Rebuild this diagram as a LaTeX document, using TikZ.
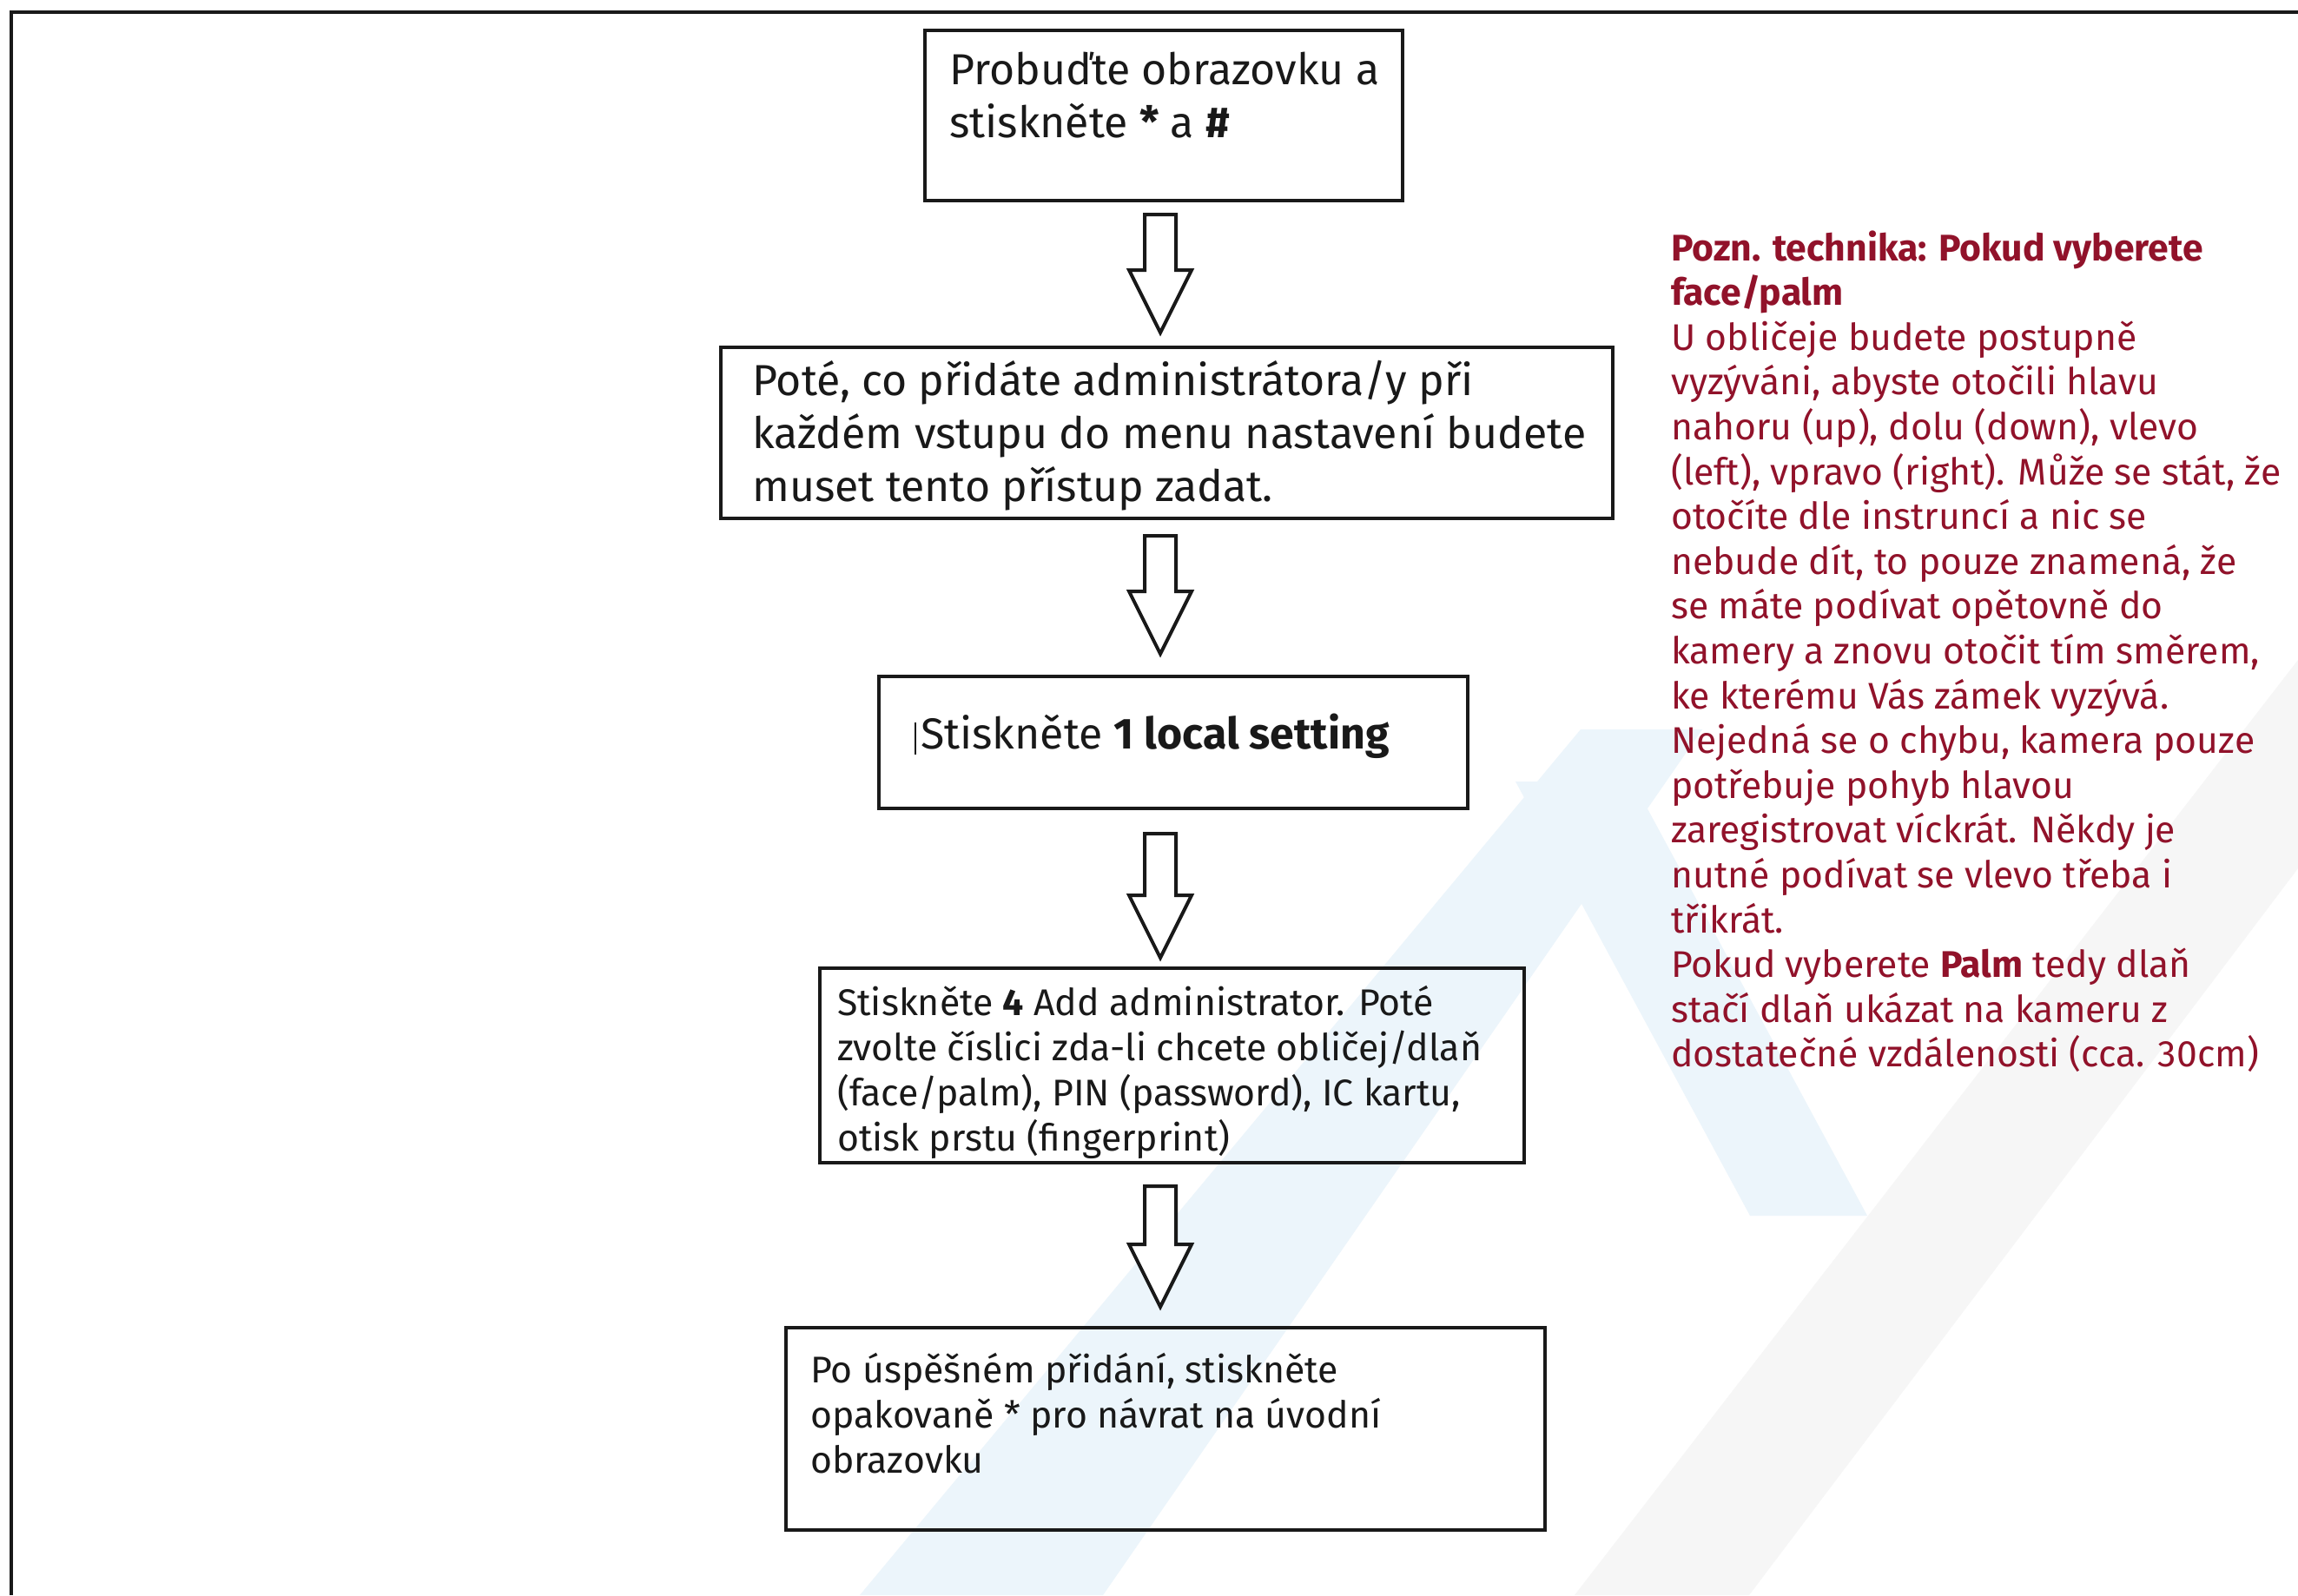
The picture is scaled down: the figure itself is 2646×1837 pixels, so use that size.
\documentclass[tikz,border=0pt]{standalone}
\usepackage{fontspec}
\setmainfont{Fira Sans}
\usetikzlibrary{calc}
\definecolor{notered}{RGB}{145,18,42}
\definecolor{ink}{RGB}{25,25,25}
\definecolor{wmblue}{RGB}{236,245,251}
\definecolor{wmgrey}{RGB}{246,246,246}
\tikzset{
  box/.style={draw=ink, line width=4pt, inner sep=0pt},
  bigtext/.style={anchor=base west, inner sep=0pt, text=ink, font=\fontsize{50}{61}\selectfont},
  smalltext/.style={anchor=base west, inner sep=0pt, text=ink, font=\fontsize{42.8}{52}\selectfont},
  notetext/.style={anchor=base west, inner sep=0pt, text=notered, font=\fontsize{42.7}{51.6}\selectfont},
  blockarrow/.style={draw=ink, line width=4pt, fill=white, line join=miter},
  frame/.style={draw=ink, line width=4pt},
  wmark/.style={fill=wmblue, draw=none},
  wmarkg/.style={fill=wmgrey, draw=none},
}
\newcommand{\flowarrow}[4]{%
  \draw[blockarrow] let \p1=(#1.south), \p2=(#2.north) in
    ({1318pt},{\y1-#3pt}) -- ({1354pt},{\y1-#3pt}) -- ({1354pt},{\y2+#4pt+72pt})
    -- ({1372pt},{\y2+#4pt+72pt}) -- ({1336pt},{\y2+#4pt}) -- ({1300pt},{\y2+#4pt+72pt})
    -- ({1318pt},{\y2+#4pt+72pt}) -- cycle;}
\begin{document}
\begin{tikzpicture}[x=1pt,y=-1pt]
\useasboundingbox (0,0) rectangle (2646,1837);
\fill[white] (0,0) rectangle (2646,1837);
% faint watermark
\fill[wmarkg] (1813,1837) -- (2014,1837) -- (2646,1000) -- (2646,760) -- cycle;
\fill[wmark] (990,1837) -- (1270,1837) -- (1960,840) -- (1820,840) -- cycle;
\fill[wmark] (1745,900) -- (1880,900) -- (2150,1400) -- (2015,1400) -- cycle;
% outer frame
\draw[frame] (13,1837) -- (13,14) -- (2646,14);
% boxes
\node[box, fill=white, minimum width=550pt, minimum height=196pt] (b1) at (1340,133) {};
\node[box, fill=white, minimum width=1027pt, minimum height=197pt] (b2) at (1343.5,498.5) {};
\node[box, fill=white, minimum width=678pt, minimum height=152pt] (b3) at (1351,855) {};
\node[box, minimum width=811pt, minimum height=224pt] (b4) at (1349.5,1227) {};
\node[box, minimum width=874pt, minimum height=233pt] (b5) at (1342,1645.5) {};
% texts
\node[bigtext] (t1) at (1093,97) {\vtop{\hbox{Probuďte obrazovku a}\hbox{stiskněte \textbf{*} a \textbf{\#}}}};
\node[bigtext] (t2) at (866,455) {\vtop{\hbox{Poté, co přidáte administrátora/y při}\hbox{každém vstupu do menu nastavení budete}\hbox{muset tento přístup zadat.}}};
\node[bigtext] (t3) at (1060,862) {Stiskněte \textbf{1 local setting}};
\draw[ink, line width=2.5pt] (1054,832) -- (1054,869);
\node[smalltext] (t4) at (964,1169) {\vtop{\hbox{Stiskněte \textbf{4} Add administrator. Poté}\hbox{zvolte číslici zda-li chcete obličej/dlaň}\hbox{(face/palm), PIN (password), IC kartu,}\hbox{otisk prstu (fingerprint)}}};
\node[smalltext] (t5) at (933,1592) {\vtop{\hbox{Po úspěšném přidání, stiskněte}\hbox{opakovaně * pro návrat na úvodní}\hbox{obrazovku}}};
% note
\node[notetext] (note) at (1924,300) {\vtop{%
\hbox{\textbf{Pozn. technika: Pokud vyberete}}
\hbox{\textbf{face/palm}}
\hbox{U obličeje budete postupně}
\hbox{vyzýváni, abyste otočili hlavu}
\hbox{nahoru (up), dolu (down), vlevo}
\hbox{(left), vpravo (right). Může se stát, že}
\hbox{otočíte dle instruncí a nic se}
\hbox{nebude dít, to pouze znamená, že}
\hbox{se máte podívat opětovně do}
\hbox{kamery a znovu otočit tím směrem,}
\hbox{ke kterému Vás zámek vyzývá.}
\hbox{Nejedná se o chybu, kamera pouze}
\hbox{potřebuje pohyb hlavou}
\hbox{zaregistrovat víckrát. Někdy je}
\hbox{nutné podívat se vlevo třeba i}
\hbox{třikrát.}
\hbox{Pokud vyberete \textbf{Palm} tedy dlaň}
\hbox{stačí dlaň ukázat na kameru z}
\hbox{dostatečné vzdálenosti (cca. 30cm)}}};
% arrows
\flowarrow{b1}{b2}{14}{15}
\flowarrow{b2}{b3}{18}{24}
\flowarrow{b3}{b4}{27}{10}
\flowarrow{b4}{b5}{25}{22}
\end{tikzpicture}
\end{document}
